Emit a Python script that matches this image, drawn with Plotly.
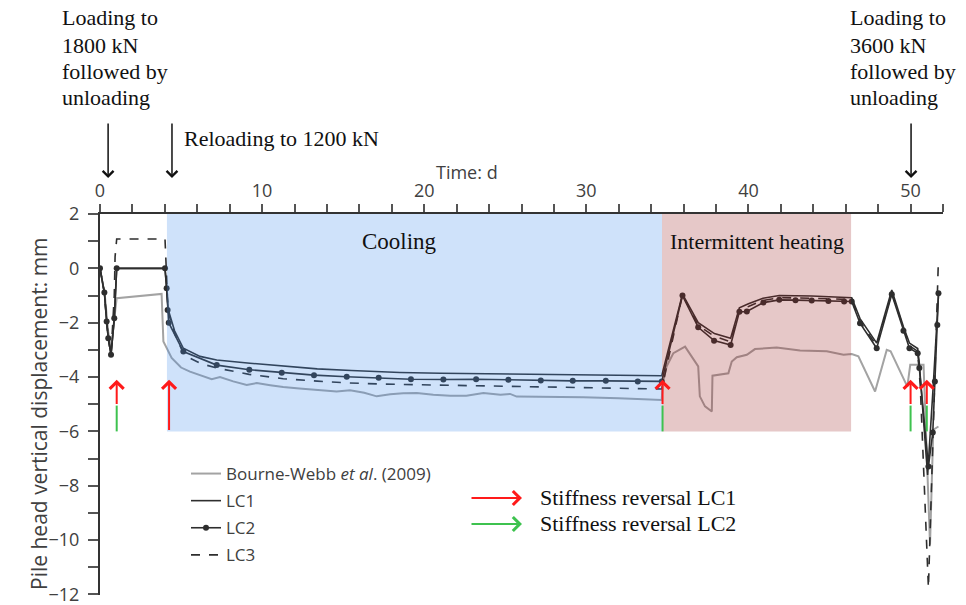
import plotly.graph_objects as go

# ---- measured / computed displacement histories (time in days, displacement in mm) ----
bw_days = [0, 0.3, 0.5, 0.68, 0.95, 1.03, 3.8, 3.91, 4.42, 5.0, 5.55, 6.17, 6.89, 7.4, 8.22, 9.05,
           9.67, 10.5, 11.3, 12.3, 13.37, 14.6, 15.42, 16.3, 17.07, 17.9, 18.7, 19.54, 20.56, 21.6,
           22.6, 23.65, 24.7, 25.3, 25.7, 27.8, 29.8, 32.0, 34.65, 34.71, 34.95, 35.37, 36.09, 36.9,
           37.0, 37.32, 37.74, 37.78, 38.76, 38.97, 39.28, 39.9, 40.4, 41.74, 43.18, 44.83, 45.86,
           46.37, 46.78, 47.81, 48.53, 48.77, 49.8, 49.98, 50.8, 51.2, 51.4, 51.72]
bw_disp = [0, -1.0, -2.3, -3.0, -1.5, -1.1, -0.94, -2.69, -3.3, -3.65, -3.8, -3.92, -4.08, -4.0, -4.16,
           -4.29, -4.22, -4.3, -4.37, -4.42, -4.47, -4.53, -4.49, -4.58, -4.71, -4.63, -4.6, -4.59,
           -4.65, -4.69, -4.69, -4.59, -4.65, -4.62, -4.72, -4.73, -4.74, -4.78, -4.84, -4.22, -3.61,
           -3.12, -2.88, -3.61, -4.71, -5.08, -5.27, -3.95, -3.86, -3.43, -3.27, -3.18, -2.97, -2.91,
           -3.02, -3.05, -3.18, -3.15, -3.24, -4.53, -3.0, -3.05, -4.35, -3.55, -3.55, -10.17, -5.94,
           -5.82]

lc1_days = [0, 0.27, 0.41, 0.51, 0.68, 0.88, 1.03, 4.01, 4.11, 4.2, 4.6, 5.14, 6.17, 7.2, 9.25, 11.3,
            13.4, 15.5, 18.5, 21.0, 23.6, 26.0, 28.8, 31.5, 34.65, 35.93, 36.9, 37.9, 38.9, 39.44, 40.0,
            40.9, 41.9, 43.9, 45.9, 46.37, 46.88, 47.91, 48.84, 49.56, 49.93, 50.44, 50.54, 51.05,
            51.4, 51.72]
lc1_disp = [0, -0.89, -1.96, -2.57, -3.18, -1.84, 0, 0, -0.73, -1.5, -2.3, -2.94, -3.24, -3.37, -3.49,
            -3.6, -3.7, -3.76, -3.83, -3.86, -3.88, -3.9, -3.92, -3.93, -3.95, -0.95, -2.0, -2.4, -2.57,
            -1.45, -1.3, -1.1, -1.0, -1.02, -1.05, -1.08, -1.85, -2.75, -0.8, -2.15, -2.75, -2.95, -3.5,
            -7.6, -4.3, -1.0]

lc2_days = [0, 0.27, 0.41, 0.51, 0.68, 0.88, 1.03, 4.01, 4.11, 4.17, 4.24, 5.14, 7.2, 9.21, 11.21,
            13.2, 15.22, 17.19, 19.18, 21.18, 23.2, 25.19, 27.19, 29.16, 31.2, 33.17, 34.65, 35.93,
            36.9, 37.88, 38.9, 39.44, 39.9, 40.92, 41.9, 42.9, 43.9, 44.93, 45.9, 46.37, 46.88, 47.91,
            48.84, 49.56, 49.93, 50.44, 50.54, 51.1, 51.37, 51.5, 51.65, 51.72]
lc2_disp = [0, -0.89, -1.96, -2.57, -3.18, -1.84, 0, 0, -0.73, -1.53, -2.0, -3.06, -3.56, -3.73, -3.84,
            -3.93, -3.99, -4.03, -4.08, -4.09, -4.08, -4.1, -4.13, -4.14, -4.14, -4.16, -4.16, -1.0,
            -2.17, -2.66, -2.82, -1.6, -1.59, -1.26, -1.16, -1.17, -1.18, -1.2, -1.22, -1.22, -2.02,
            -2.94, -0.95, -2.3, -2.94, -3.12, -3.67, -7.29, -6.04, -4.16, -2.08, -0.92]

lc3_days = [0, 0.27, 0.41, 0.51, 0.68, 0.88, 0.93, 1.03, 4.01, 4.11, 4.2, 4.6, 5.2, 6.2, 7.2, 9.2,
            11.3, 13.4, 15.4, 17.5, 19.5, 21.5, 23.6, 25.7, 27.75, 30.0, 32.5, 34.65, 35.93, 36.9,
            37.9, 38.9, 39.44, 40.0, 40.9, 41.9, 43.9, 45.9, 46.37, 46.88, 47.91, 48.84, 49.56, 49.93,
            50.44, 50.6, 51.1, 51.72]
lc3_disp = [0, -0.89, -1.96, -2.57, -3.18, -1.0, 0.43, 1.08, 1.08, -0.5, -1.6, -2.4, -3.2, -3.5, -3.67,
            -3.9, -4.06, -4.15, -4.22, -4.26, -4.28, -4.3, -4.32, -4.35, -4.37, -4.4, -4.42, -4.44,
            -0.97, -2.1, -2.5, -2.7, -1.5, -1.4, -1.18, -1.08, -1.1, -1.12, -1.15, -1.95, -2.85, -0.9,
            -2.2, -2.85, -3.05, -4.35, -11.76, 0.37]

# ---- thermal phases and events ----
cooling_period = [4.13, 34.67]
heating_period = [34.67, 46.33]
shade_depth = -6.0
reversal_lc1_days = [1.03, 4.26, 34.7, 50.0, 51.0]
reversal_lc2_days = [1.03, 34.7, 50.0, 51.0]
reversal_tip = -4.1
reversal_split = -5.05
event_days = [0.5, 4.44, 50.03]

left_note = ["Loading to", "1800 kN", "followed by", "unloading"]
right_note = ["Loading to", "3600 kN", "followed by", "unloading"]

# ---- layout geometry (pixels) ----
W, H = 966, 605
L, R, T, B = 100, 23, 214, 10
PW, PH = W - L - R, H - T - B


def px(x):
    return (x - L) / PW


def py(y):
    return (H - B - y) / PH


SERIF = "Liberation Serif"
SANS = "Open Sans"
INK = "#2e2e2e"
TEXT = "#111111"

fig = go.Figure()
fig.add_trace(go.Scatter(x=bw_days, y=bw_disp, mode="lines",
                         name="Bourne-Webb <i>et al</i>. (2009)",
                         line=dict(color="#a3a3a3", width=2), legendgroup="a"))
fig.add_trace(go.Scatter(x=lc1_days, y=lc1_disp, mode="lines", name="LC1",
                         line=dict(color=INK, width=1.6), legendgroup="b"))
fig.add_trace(go.Scatter(x=lc2_days, y=lc2_disp, mode="lines+markers", name="LC2",
                         line=dict(color=INK, width=1.6),
                         marker=dict(size=6, color=INK), legendgroup="c"))
fig.add_trace(go.Scatter(x=lc3_days, y=lc3_disp, mode="lines", name="LC3",
                         line=dict(color=INK, width=1.6, dash="dash"), legendgroup="d"))

shapes = [
    dict(type="rect", xref="x", yref="y", x0=cooling_period[0], x1=cooling_period[1],
         y0=shade_depth, y1=2, fillcolor="rgba(63,139,235,0.25)", line=dict(width=0), layer="above"),
    dict(type="rect", xref="x", yref="y", x0=heating_period[0], x1=heating_period[1],
         y0=shade_depth, y1=2, fillcolor="rgba(155,35,35,0.25)", line=dict(width=0), layer="above"),
]

annotations = []
# stiffness reversal markers
for d in reversal_lc1_days:
    base = reversal_split if d in reversal_lc2_days else shade_depth
    annotations.append(dict(x=d, y=reversal_tip, ax=d, ay=base, xref="x", yref="y",
                            axref="x", ayref="y", text="", showarrow=True, arrowhead=4,
                            arrowsize=1.35, arrowwidth=2, arrowcolor="#ff1a1a", standoff=0))
for d in reversal_lc2_days:
    shapes.append(dict(type="line", xref="x", yref="y", x0=d, x1=d, y0=shade_depth,
                       y1=reversal_split, line=dict(color="#3ec24f", width=2), layer="above"))

# event arrows above the time axis
for d in event_days:
    annotations.append(dict(x=d, y=py(178), xref="x", yref="paper", ax=0, ay=-56,
                            text="", showarrow=True, arrowhead=4, arrowsize=1.4,
                            arrowwidth=1.5, arrowcolor="#111111", standoff=0))

line_y = [18, 45, 71, 98]
for txt, yy in zip(left_note, line_y):
    annotations.append(dict(x=px(60), y=py(yy), xref="paper", yref="paper", text=txt,
                            showarrow=False, xanchor="left", yanchor="middle",
                            font=dict(family=SERIF, size=22, color=TEXT)))
for txt, yy in zip(right_note, line_y):
    annotations.append(dict(x=px(848), y=py(yy), xref="paper", yref="paper", text=txt,
                            showarrow=False, xanchor="left", yanchor="middle",
                            font=dict(family=SERIF, size=22, color=TEXT)))
annotations.append(dict(x=px(182), y=py(138), xref="paper", yref="paper",
                        text="Reloading to 1200 kN", showarrow=False, xanchor="left",
                        yanchor="middle", font=dict(family=SERIF, size=22, color=TEXT)))

# phase labels
annotations.append(dict(x=18.5, y=1.0, xref="x", yref="y", text="Cooling", showarrow=False,
                        font=dict(family=SERIF, size=23, color=TEXT)))
annotations.append(dict(x=sum(heating_period) / 2, y=1.0, xref="x", yref="y",
                        text="Intermittent heating", showarrow=False,
                        font=dict(family=SERIF, size=22, color=TEXT)))

# axis titles
annotations.append(dict(x=px(467), y=py(158), xref="paper", yref="paper", text="Time: d",
                        showarrow=False, font=dict(family=SANS, size=18, color="#404040")))
annotations.append(dict(x=px(23), y=py(414), xref="paper", yref="paper",
                        text="Pile head vertical displacement: mm", textangle=-90,
                        showarrow=False, font=dict(family=SANS, size=21, color="#404040")))

# key for reversal arrows
for yy, col, txt in [(498, "#ff1a1a", "Stiffness reversal LC1"),
                     (524, "#3ec24f", "Stiffness reversal LC2")]:
    annotations.append(dict(x=px(522), y=py(yy), xref="paper", yref="paper", ax=-52, ay=0,
                            text="", showarrow=True, arrowhead=4, arrowsize=1.35,
                            arrowwidth=2, arrowcolor=col, standoff=0))
    annotations.append(dict(x=px(538), y=py(yy - 1), xref="paper", yref="paper", text=txt,
                            showarrow=False, xanchor="left", yanchor="middle",
                            font=dict(family=SERIF, size=22, color=TEXT)))

fig.update_layout(
    width=W, height=H,
    margin=dict(l=L, r=R, t=T, b=B, pad=0, autoexpand=False),
    paper_bgcolor="white", plot_bgcolor="white",
    shapes=shapes, annotations=annotations,
    showlegend=True,
    legend=dict(x=px(186), y=py(456), xanchor="left", yanchor="top",
                bgcolor="rgba(0,0,0,0)", tracegroupgap=2,
                font=dict(family=SANS, size=17, color="#404040")),
    xaxis=dict(range=[0, 52], side="top", showgrid=False, zeroline=False, automargin=False,
               showline=True, linecolor="#333333", linewidth=2, mirror=False,
               ticks="outside", ticklen=8, tickwidth=1.5, tickcolor="#555555",
               tick0=0, dtick=10,
               minor=dict(dtick=2, ticks="outside", ticklen=8, tickwidth=1.5,
                          tickcolor="#555555"),
               tickfont=dict(family=SANS, size=18, color="#404040")),
    yaxis=dict(range=[-12.02, 2], showgrid=False, zeroline=False, automargin=False,
               showline=True, linecolor="#333333", linewidth=2,
               ticks="outside", ticklen=10, tickwidth=1.5, tickcolor="#555555",
               tick0=0, dtick=2, ticklabeloverflow="allow", ticklabelstandoff=5,
               minor=dict(dtick=1, ticks="outside", ticklen=10, tickwidth=1.5,
                          tickcolor="#555555"),
               tickfont=dict(family=SANS, size=18, color="#404040")),
)

fig.write_html("out.html")
